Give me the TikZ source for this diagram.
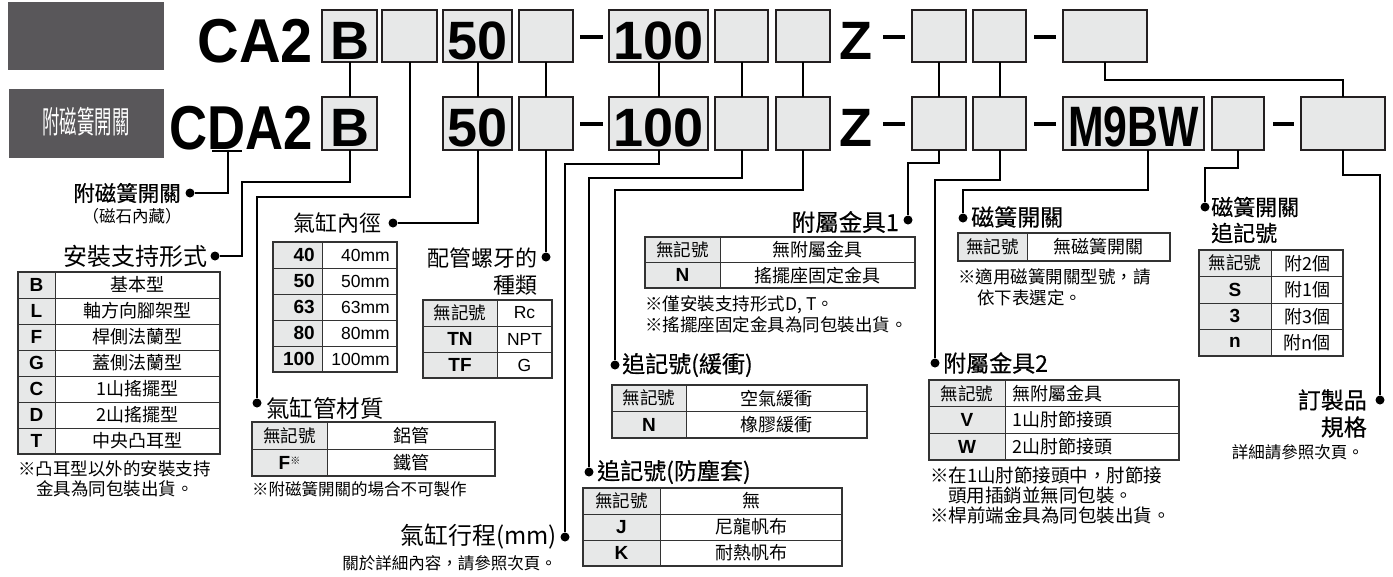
\documentclass[tikz,border=0pt]{standalone}
\usepackage{fontspec}
\usepackage{graphicx}
\setmainfont{Liberation Sans}
\newfontfamily\cjk{Noto Sans CJK TC}
\newfontfamily\cjkt[FakeBold=0.45]{Noto Sans CJK TC}
\usetikzlibrary{calc}
\definecolor{boxfill}{HTML}{E7E8E8}
\definecolor{darkbox}{HTML}{59575A}
\definecolor{ink}{HTML}{231F20}
\definecolor{tl}{HTML}{333333}
\newcommand\fs[1]{\fontsize{#1}{#1}\selectfont}
\newcommand\nk{{\cjk\mdseries\fs{17.5}無記號}}
\newcommand\tgrid[6]{%
  \pgfmathsetmacro\tbot{#4+#5*#6}
  \fill[boxfill] (#1,#4) rectangle (#2,\tbot);
  \foreach \r in {0,...,#6}{\draw[tline] (#1,{#4+\r*#5}) -- (#3,{#4+\r*#5});}
  \draw[tline] (#2,#4) -- (#2,\tbot);
  \draw[touter] (#1,#4) rectangle (#3,\tbot);
  \draw[ttop] (#1,#4) -- (#3,#4);
}
\begin{document}
\begin{tikzpicture}[x=1pt,y=-1pt,
  codebox/.style={draw=ink,line width=2pt,fill=boxfill,inner sep=0pt,outer sep=0pt,anchor=north west},
  conn/.style={draw=black,line width=2pt},
  jdot/.style={circle,fill=black,minimum size=9pt,inner sep=0pt},
  bigt/.style={font=\bfseries\fs{62},inner sep=0pt,anchor=base east},
  boxt/.style={font=\bfseries\fs{54},inner sep=0pt,anchor=base},
  ttl/.style={font=\cjkt\fs{22},inner sep=0pt},
  keyt/.style={font=\bfseries\fs{19},inner sep=0pt},
  valt/.style={font=\cjk\fs{18},inner sep=0pt},
  latv/.style={font=\fs{17.5},inner sep=0pt},
  note/.style={font=\cjk\fs{17.5},inner sep=0pt,anchor=west},
  small/.style={font=\cjk\fs{16.5},inner sep=0pt},
  tline/.style={draw=tl,line width=1pt},
  touter/.style={draw=tl,line width=1.5pt},
  ttop/.style={draw=tl,line width=2.5pt},
  dashbar/.style={draw=black,line width=4pt}]
\useasboundingbox (0,0) rectangle (1393,576);

% header blocks
\fill[darkbox] (8,2) rectangle (164,70);
\fill[darkbox] (9,89) rectangle (164,158);
\node[font=\cjk\fs{31},text=white,inner sep=0pt] (hdr) at (86,122) {\scalebox{0.56}[1]{附磁簧開關}};

% code texts
\node[bigt] (t-ca2) at (313,62) {\scalebox{0.93}[1]{CA2}};
\node[bigt] (t-cda2) at (313,149) {\scalebox{0.85}[1]{CDA2}};

% top row boxes
\node[codebox,minimum width=55,minimum height=52] (b1) at (322,10) {};
\node[codebox,minimum width=55,minimum height=52] (b2) at (382,10) {};
\node[codebox,minimum width=69,minimum height=52] (b3) at (443,10) {};
\node[codebox,minimum width=54,minimum height=52] (b4) at (519,10) {};
\node[codebox,minimum width=99,minimum height=52] (b5) at (609,10) {};
\node[codebox,minimum width=53,minimum height=52] (b6) at (715,10) {};
\node[codebox,minimum width=54,minimum height=52] (b7) at (776,10) {};
\node[codebox,minimum width=54,minimum height=52] (b8) at (912,10) {};
\node[codebox,minimum width=53,minimum height=52] (b9) at (973,10) {};
\node[codebox,minimum width=84,minimum height=52] (b10) at (1063,10) {};
% bottom row boxes
\node[codebox,minimum width=55,minimum height=53] (c1) at (322,97) {};
\node[codebox,minimum width=69,minimum height=53] (c3) at (443,97) {};
\node[codebox,minimum width=54,minimum height=53] (c4) at (519,97) {};
\node[codebox,minimum width=99,minimum height=53] (c5) at (609,97) {};
\node[codebox,minimum width=53,minimum height=53] (c6) at (715,97) {};
\node[codebox,minimum width=54,minimum height=53] (c7) at (776,97) {};
\node[codebox,minimum width=54,minimum height=53] (c8) at (912,97) {};
\node[codebox,minimum width=53,minimum height=53] (c9) at (973,97) {};
\node[codebox,minimum width=141,minimum height=53] (c10) at (1063,97) {};
\node[codebox,minimum width=52,minimum height=53] (c11) at (1212,97) {};
\node[codebox,minimum width=84,minimum height=53] (c12) at (1301,97) {};

% box texts
\node[boxt] (tb1) at (349.5,59) {B};
\node[boxt] (t501) at (477.5,59) {50};
\node[boxt] (t1001) at (658.5,59) {100};
\node[boxt] (tz1) at (856,59) {Z};
\node[boxt] (tb2) at (349.5,146) {B};
\node[boxt] (t502) at (477.5,146) {50};
\node[boxt] (t1002) at (658.5,146) {100};
\node[boxt] (tz2) at (856,146) {Z};
\node[boxt,font=\bfseries\fs{57}] (tm9) at (1133.5,146.5) {\scalebox{0.75}[1]{M9BW}};

% dashes
\draw[dashbar] (580,37) -- (603,37);
\draw[dashbar] (883,37) -- (905,37);
\draw[dashbar] (1034,37) -- (1056,37);
\draw[dashbar] (580,124) -- (603,124);
\draw[dashbar] (883,124) -- (905,124);
\draw[dashbar] (1034,124) -- (1056,124);
\draw[dashbar] (1273,124) -- (1294,124);

% dots
\node[jdot] (d-mag) at (190,193) {};
\node[jdot] (d-mount) at (215,256) {};
\node[jdot] (d-mat) at (257,403) {};
\node[jdot] (d-bore) at (393,223) {};
\node[jdot] (d-port) at (546,257) {};
\node[jdot] (d-stroke) at (565,537) {};
\node[jdot] (d-boot) at (589,472) {};
\node[jdot] (d-cush) at (615,365) {};
\node[jdot] (d-acc1) at (908,220) {};
\node[jdot] (d-acc2) at (935,363) {};
\node[jdot] (d-sw) at (963,218) {};
\node[jdot] (d-swn) at (1205,207) {};
\node[jdot] (d-spec) at (1380,400) {};

% connectors top to bottom
\draw[conn] (b1.south) -- (c1.north);
\draw[conn] (b3.south) -- (c3.north);
\draw[conn] (b4.south) -- (c4.north);
\draw[conn] (b5.south) -- (c5.north);
\draw[conn] (b6.south) -- (c6.north);
\draw[conn] (b7.south) -- (c7.north);
\draw[conn] (b8.south) -- (c8.north);
\draw[conn] (b9.south) -- (c9.north);
\coordinate (b10l) at (1105,62);
\draw[conn] (b10l) -- ++(0,18) -| (c12.north);
\draw[conn] (b2.south) -- ++(0,135) -| (d-mat);

% D underline
\coordinate (dul) at (212,150.5);
\coordinate (dur) at (242,150.5);
\coordinate (dum) at (228,150.5);
\draw[line width=2pt] (dul) -- (dur);
\draw[conn] (dum) |- (d-mag);

% bottom connectors
\draw[conn] (c1.south) -- ++(0,32) -| ($(d-mount)+(27,0)$) -- (d-mount);
\draw[conn] (c3.south) |- (d-bore);
\draw[conn] (c4.south) -- (d-port);
\draw[conn] (c5.south) -- ++(0,14) -| (d-stroke);
\draw[conn] (c6.south) -- ++(0,28) -| (d-boot);
\draw[conn] (c7.south) -- ++(0,40) -| (d-cush);
\draw[conn] (c8.south) -- ++(0,13) -| (d-acc1);
\draw[conn] (c9.south) -- ++(0,30) -| (d-acc2);
\coordinate (m9b) at (1148,150);
\draw[conn] (m9b) -- ++(0,40) -| (d-sw);
\draw[conn] (c11.south) -- ++(0,18) -| (d-swn);
\draw[conn] (c12.south) -- ++(0,25) -| (d-spec);

% titles
\node[ttl,font=\cjkt\fs{21.5},anchor=east] (t-mag) at (181,193) {附磁簧開關};
\node[small] (t-mag2) at (132,216) {（磁石內藏）};
\node[ttl,font=\cjk\fs{24},anchor=east] (t-mount) at (208,256) {安裝支持形式};
\node[ttl,font=\cjk\fs{22},anchor=east] (t-bore) at (382,223) {氣缸內徑};
\node[ttl,font=\cjk\fs{22},anchor=east] (t-port1) at (538,258) {配管螺牙的};
\node[ttl,font=\cjk\fs{22},anchor=east] (t-port2) at (538,285) {種類};
\node[ttl,font=\cjk\fs{23.5},anchor=west] (t-mat) at (266,408) {氣缸管材質};
\node[ttl,font=\cjk\fs{24},anchor=east] (t-stroke) at (557,537) {氣缸行程(mm)};
\node[small,anchor=east] (t-stroke2) at (557,563) {關於詳細內容，請參照次頁。};
\node[ttl,font=\cjkt\fs{23.5},anchor=east] (t-acc1) at (899,222) {附屬金具1};
\node[ttl,font=\cjkt\fs{23},anchor=west] (t-cush) at (622,365) {追記號(緩衝)};
\node[ttl,font=\cjkt\fs{23},anchor=west] (t-boot) at (597,472) {追記號(防塵套)};
\node[ttl,font=\cjkt\fs{23},anchor=west] (t-sw) at (971,217) {磁簧開關};
\node[ttl,font=\cjkt\fs{23},anchor=west] (t-acc2) at (943,363) {附屬金具2};
\node[ttl,anchor=west] (t-swn1) at (1211,207) {磁簧開關};
\node[ttl,anchor=west] (t-swn2) at (1211,233) {追記號};
\node[ttl,font=\cjkt\fs{23},anchor=east] (t-spec1) at (1367,400) {訂製品};
\node[ttl,font=\cjkt\fs{23},anchor=east] (t-spec2) at (1367,427) {規格};
\node[small,anchor=east] (t-spec3) at (1364,452) {詳細請參照次頁。};

% mounting table
\tgrid{18}{55}{220}{272}{26}{7}
\foreach \k/\v [count=\i from 0] in {B/基本型,L/軸方向腳架型,F/桿側法蘭型,G/蓋側法蘭型,C/1山搖擺型,D/2山搖擺型,T/中央凸耳型}{
  \node[keyt] (mk\i) at (36.5,{285+26*\i}) {\k};
  \node[valt] (mv\i) at (137.5,{285+26*\i}) {\v};}
\node[note] (mn1) at (18,469) {※凸耳型以外的安裝支持};
\node[note] (mn2) at (36,489) {金具為同包裝出貨。};

% bore table
\tgrid{273}{322}{397}{242}{26}{5}
\foreach \k [count=\i from 0] in {40,50,63,80,100}{
  \node[keyt,anchor=east] (bk\i) at (315,{255+26*\i}) {\k};
  \node[latv,anchor=east] (bv\i) at (390,{255+26*\i}) {\k mm};}

% port table
\tgrid{423}{497}{552}{300}{26}{3}
\foreach \k/\v [count=\i from 0] in {\nk/Rc,TN/NPT,TF/G}{
  \node[keyt] (pk\i) at (460,{313+26*\i}) {\k};
  \node[latv] (pv\i) at (524.5,{313+26*\i}) {\v};}

% material table
\tgrid{252}{327}{495}{422}{27}{2}
\node[keyt] (tk0) at (289.5,435.5) {\nk};
\node[valt] (tv0) at (411,435.5) {鋁管};
\node[keyt] (tk1) at (289.5,462.5) {F\raisebox{5pt}{\cjk\mdseries\fs{10}※}};
\node[valt] (tv1) at (411,462.5) {鐵管};
\node[note,font=\cjk\fs{16.5}] (tn) at (252,489) {※附磁簧開關的場合不可製作};

% accessory 1 table
\tgrid{645}{720}{915}{237}{25.5}{2}
\foreach \k/\v [count=\i from 0] in {\nk/無附屬金具,N/搖擺座固定金具}{
  \node[keyt] (ak\i) at (682.5,{249.75+25.5*\i}) {\k};
  \node[valt] (av\i) at (817.5,{249.75+25.5*\i}) {\v};}
\node[note] (an1) at (645,305) {※僅安裝支持形式D, T。};
\node[note] (an2) at (645,325) {※搖擺座固定金具為同包裝出貨。};

% cushion table
\tgrid{612}{686}{867}{385}{26.5}{2}
\foreach \k/\v [count=\i from 0] in {\nk/空氣緩衝,N/橡膠緩衝}{
  \node[keyt] (ck\i) at (649,{398.25+26.5*\i}) {\k};
  \node[valt] (cv\i) at (776.5,{398.25+26.5*\i}) {\v};}

% boot table
\tgrid{583}{660}{842}{488}{26}{3}
\foreach \k/\v [count=\i from 0] in {\nk/無,J/尼龍帆布,K/耐熱帆布}{
  \node[keyt] (ok\i) at (621.5,{501+26*\i}) {\k};
  \node[valt] (ov\i) at (751,{501+26*\i}) {\v};}

% switch table
\tgrid{958}{1027}{1170}{233}{28}{1}
\node[keyt] (sk0) at (992.5,247) {\nk};
\node[valt] (sv0) at (1098.5,247) {無磁簧開關};
\node[note] (sn1) at (958,277) {※適用磁簧開關型號，請};
\node[note] (sn2) at (977,298) {依下表選定。};

% accessory 2 table
\tgrid{929}{1005}{1179}{380}{26.67}{3}
\foreach \k/\v [count=\i from 0] in {\nk/無附屬金具,V/1山肘節接頭,W/2山肘節接頭}{
  \node[keyt] (ek\i) at (967,{393.3+26.67*\i}) {\k};
  \node[valt,anchor=west] (ev\i) at (1012,{393.3+26.67*\i}) {\v};}
\node[note,font=\cjk\fs{18.5}] (en1) at (930,475) {※在1山肘節接頭中，肘節接};
\node[note,font=\cjk\fs{18.5}] (en2) at (948,495) {頭用插銷並無同包裝。};
\node[note,font=\cjk\fs{18.5}] (en3) at (930,515) {※桿前端金具為同包裝出貨。};

% switch quantity table
\tgrid{1199}{1271}{1343}{250}{26.5}{4}
\foreach \k/\v [count=\i from 0] in {\nk/附2個,S/附1個,3/附3個,n/附n個}{
  \node[keyt] (qk\i) at (1235,{263.25+26.5*\i}) {\k};
  \node[valt] (qv\i) at (1307,{263.25+26.5*\i}) {\v};}
\end{tikzpicture}
\end{document}
